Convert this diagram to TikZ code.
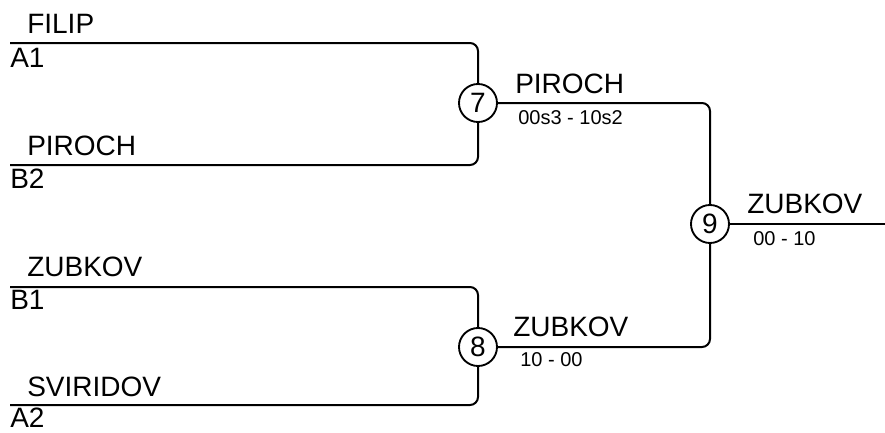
\documentclass[tikz,border=0pt]{standalone}
\usepackage{fontspec}
\setmainfont{Liberation Sans}
\usetikzlibrary{positioning}
\tikzset{
	game/.style={circle,inner sep=0,fill=white,draw=black,line width=1.4pt,minimum size=28.5pt,font=\fontsize{21}{22}\selectfont},
	player/.style={anchor=base west,inner sep=0,font=\fontsize{21}{24}\selectfont},
	score/.style={anchor=base west,inner sep=0,font=\fontsize{15}{17}\selectfont},
	bline/.style={color=black,line width=1.5pt,rounded corners=6pt}
}
\begin{document}
\begin{tikzpicture}[x=0.75pt,y=-0.75pt]
	\useasboundingbox (0,0) rectangle (885,432);

	%%Start of the lines
	\coordinate (a1) at (10,43);
	\coordinate (b2) at (10,165);
	\coordinate (b1) at (10,287);
	\coordinate (a2) at (10,405);
	\coordinate (fin) at (885,224);

	%%First round
	\node[player] (filip) at (27,33) {FILIP};
	\node[player] (sa1) at (10,67) {A1};
	\node[player] (piroch) at (27,155) {PIROCH};
	\node[player] (sb2) at (10,188) {B2};
	\node[player] (zubkov) at (27,276) {ZUBKOV};
	\node[player] (sb1) at (10,309) {B1};
	\node[player] (sviridov) at (27,396) {SVIRIDOV};
	\node[player] (sa2) at (10,427) {A2};

	%%Games
	\node[game] (m7) at (478,103) {7};
	\node[game] (m8) at (478,347) {8};
	\node[game] (m9) at (710,224) {9};

	%%Winners and scores
	\node[player] (w7) at (515,93) {PIROCH};
	\node[score] (s7) at (518,124) {00s3 - 10s2};
	\node[player] (w8) at (513,336) {ZUBKOV};
	\node[score] (s8) at (520,366) {10 - 00};
	\node[player] (w9) at (747,213) {ZUBKOV};
	\node[score] (s9) at (753,245) {00 - 10};

	%%%%%% EDGES
	\draw[bline] (a1) -| (m7.north);
	\draw[bline] (b2) -| (m7.south);
	\draw[bline] (b1) -| (m8.north);
	\draw[bline] (a2) -| (m8.south);
	\draw[bline] (m7.east) -| (m9.north);
	\draw[bline] (m8.east) -| (m9.south);
	\draw[bline] (m9.east) -- (fin);

\end{tikzpicture}
\end{document}
